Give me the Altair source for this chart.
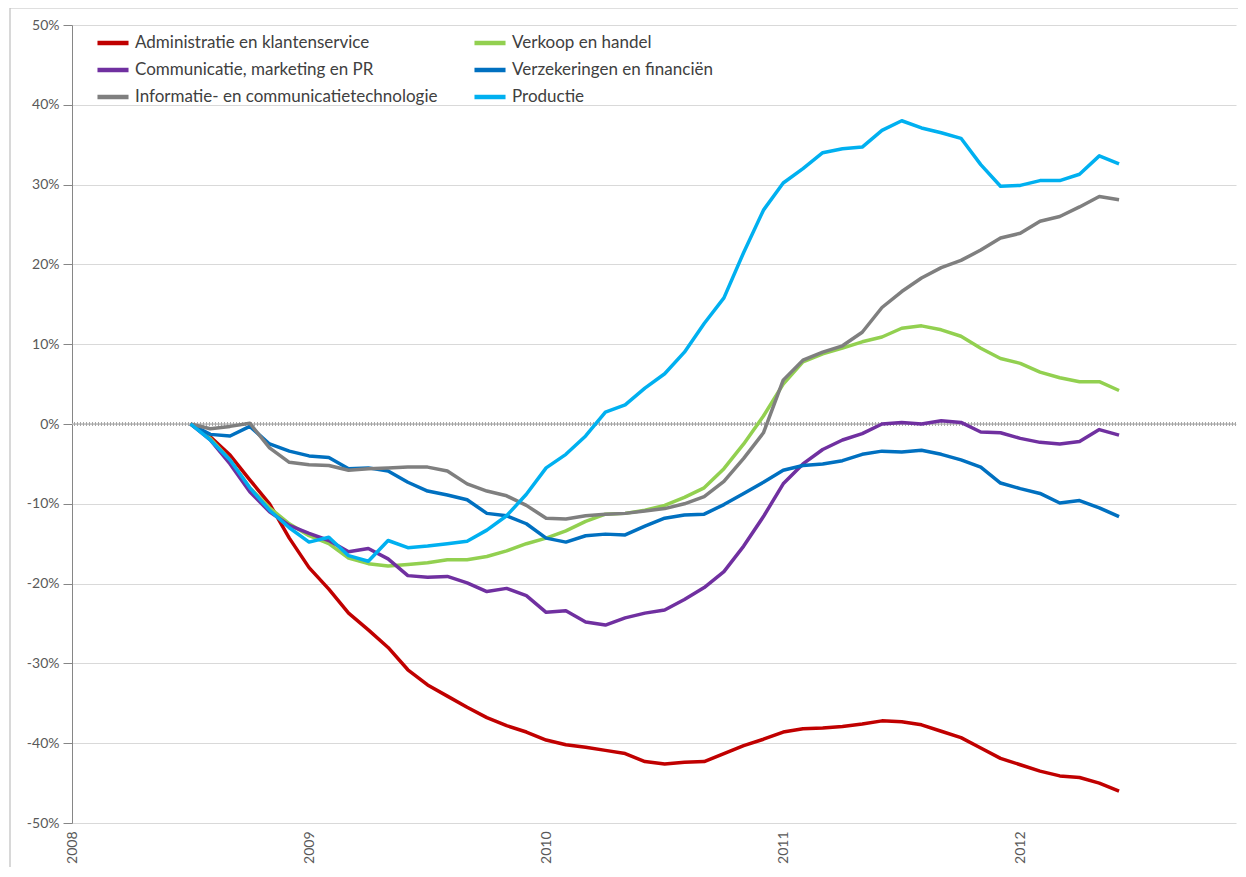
import altair as alt
import pandas as pd

# months (year-month) of the observations
months = [
    "2008-07", "2008-08", "2008-09", "2008-10", "2008-11", "2008-12",
    "2009-01", "2009-02", "2009-03", "2009-04", "2009-05", "2009-06",
    "2009-07", "2009-08", "2009-09", "2009-10", "2009-11", "2009-12",
    "2010-01", "2010-02", "2010-03", "2010-04", "2010-05", "2010-06",
    "2010-07", "2010-08", "2010-09", "2010-10", "2010-11", "2010-12",
    "2011-01", "2011-02", "2011-03", "2011-04", "2011-05", "2011-06",
    "2011-07", "2011-08", "2011-09", "2011-10", "2011-11", "2011-12",
    "2012-01", "2012-02", "2012-03", "2012-04", "2012-05", "2012-06",
]

administratie = [
    0.0, -1.6, -3.9, -7.0, -10.0, -14.3, -18.0, -20.7, -23.7, -25.8, -28.0, -30.8,
    -32.7, -34.1, -35.5, -36.8, -37.8, -38.6, -39.6, -40.2, -40.5, -40.9, -41.3, -42.3,
    -42.6, -42.4, -42.3, -41.3, -40.3, -39.5, -38.6, -38.2, -38.1, -37.9, -37.6, -37.2,
    -37.3, -37.7, -38.5, -39.3, -40.6, -41.9, -42.7, -43.5, -44.1, -44.3, -45.0, -46.0,
]
verkoop = [
    0.0, -1.8, -4.5, -8.0, -10.5, -12.5, -14.0, -15.0, -16.8, -17.5, -17.8, -17.6,
    -17.4, -17.0, -17.0, -16.6, -15.9, -15.0, -14.3, -13.4, -12.2, -11.3, -11.2, -10.8,
    -10.2, -9.2, -8.0, -5.6, -2.5, 1.0, 5.0, 7.8, 8.8, 9.5, 10.3, 10.9,
    12.0, 12.3, 11.8, 11.0, 9.5, 8.2, 7.6, 6.5, 5.8, 5.3, 5.3, 4.2,
]
communicatie = [
    0.0, -2.0, -5.0, -8.5, -11.0, -12.7, -13.7, -14.6, -16.0, -15.6, -16.9, -19.0,
    -19.2, -19.1, -19.9, -21.0, -20.6, -21.5, -23.6, -23.4, -24.8, -25.2, -24.3, -23.7,
    -23.3, -22.0, -20.5, -18.5, -15.3, -11.6, -7.5, -5.0, -3.2, -2.0, -1.2, 0.0,
    0.2, 0.0, 0.4, 0.2, -1.0, -1.1, -1.8, -2.3, -2.5, -2.2, -0.7, -1.4,
]
verzekeringen = [
    0.0, -1.3, -1.5, -0.3, -2.5, -3.4, -4.0, -4.2, -5.6, -5.5, -5.9, -7.3,
    -8.4, -8.9, -9.5, -11.2, -11.5, -12.5, -14.3, -14.8, -14.0, -13.8, -13.9, -12.8,
    -11.8, -11.4, -11.3, -10.1, -8.7, -7.3, -5.8, -5.2, -5.0, -4.6, -3.8, -3.4,
    -3.5, -3.3, -3.8, -4.5, -5.4, -7.4, -8.1, -8.7, -9.9, -9.6, -10.5, -11.6,
]
informatie = [
    0.0, -0.6, -0.3, 0.1, -3.0, -4.8, -5.1, -5.2, -5.8, -5.6, -5.5, -5.4,
    -5.4, -5.9, -7.5, -8.4, -9.0, -10.2, -11.8, -11.9, -11.5, -11.3, -11.2, -10.9,
    -10.6, -10.0, -9.1, -7.2, -4.3, -1.1, 5.5, 8.0, 9.0, 9.8, 11.5, 14.6,
    16.6, 18.3, 19.6, 20.5, 21.8, 23.3, 23.9, 25.4, 26.0, 27.2, 28.5, 28.1,
]
productie = [
    0.0, -2.0, -4.5, -8.0, -10.8, -13.0, -14.8, -14.2, -16.5, -17.2, -14.6, -15.5,
    -15.3, -15.0, -14.7, -13.3, -11.5, -8.8, -5.5, -3.8, -1.5, 1.5, 2.4, 4.5,
    6.3, 9.0, 12.6, 15.8, 21.5, 26.8, 30.2, 32.0, 34.0, 34.5, 34.7, 36.8,
    38.0, 37.1, 36.5, 35.8, 32.5, 29.8, 29.9, 30.5, 30.5, 31.3, 33.6, 32.6,
]

series_names = [
    "Administratie en klantenservice",
    "Verkoop en handel",
    "Communicatie, marketing en PR",
    "Verzekeringen en financiën",
    "Informatie- en communicatietechnologie",
    "Productie",
]
series_values = [administratie, verkoop, communicatie, verzekeringen, informatie, productie]
series_colors = ["#C00000", "#92D050", "#7030A0", "#0070C0", "#7F7F7F", "#00B0F0"]

year_ticks = [2008, 2009, 2010, 2011, 2012]
pct_ticks = [-50, -40, -30, -20, -10, 0, 10, 20, 30, 40, 50]

rows = []
for name, vals in zip(series_names, series_values):
    for m, v in zip(months, vals):
        yr, mo = m.split("-")
        rows.append({"t": int(yr) + (int(mo) - 1) / 12.0, "serie": name, "v": v})
df = pd.DataFrame(rows)

W, H = 1164, 798
FONT = "Lato"

x_enc = alt.X(
    "t:Q",
    scale=alt.Scale(domain=[2008, 2012.91], nice=False, zero=False),
    axis=alt.Axis(values=year_ticks, format="d", labelAngle=270, domain=False,
                  ticks=False, grid=False, labelPadding=8, title=None),
)
y_enc = alt.Y(
    "v:Q",
    scale=alt.Scale(domain=[-50, 50], nice=False),
    axis=alt.Axis(values=pct_ticks, labelExpr="datum.value + '%'", title=None,
                  tickSize=9, labelPadding=4, domainColor="#868686", tickColor="#868686",
                  grid=True, gridColor="#D9D9D9", gridWidth=1.2),
)

frame = alt.Chart(pd.DataFrame({"a": [0]})).mark_rect(
    fillOpacity=0, stroke="#BFBFBF", strokeWidth=1.2
).encode(x=alt.value(-62), x2=alt.value(W + 20), y=alt.value(-17), y2=alt.value(H + 60))

zero = alt.Chart(pd.DataFrame({"v": [0]}))
zero_base = zero.mark_rule(color="#BDBDBD", strokeWidth=1.5).encode(y="v:Q")
zero_ticks = zero.mark_rule(color="#A6A6A6", strokeWidth=4, strokeDash=[1, 2]).encode(y="v:Q")

lines = alt.Chart(df).mark_line(strokeWidth=3.5, strokeJoin="round").encode(
    x=x_enc,
    y=y_enc,
    color=alt.Color(
        "serie:N",
        scale=alt.Scale(domain=series_names, range=series_colors),
        sort=series_names,
        legend=alt.Legend(
            title=None, orient="none", legendX=25, legendY=2, columns=2,
            direction="horizontal",
            symbolType="M-1.15,0H1.15", symbolSize=729, symbolStrokeWidth=4.5,
            labelFontSize=17, labelFont=FONT, labelColor="#404040",
            columnPadding=27, rowPadding=2, labelOffset=6, labelLimit=500,
            padding=0,
        ),
    ),
    order=alt.Order("t:Q"),
)

chart = alt.layer(frame, zero_base, zero_ticks, lines).properties(
    width=W, height=H,
    padding={"left": 64, "top": 17, "right": 2, "bottom": 44},
    autosize=alt.AutoSizeParams(type="none"),
).configure_view(stroke=None).configure_axis(
    labelFont=FONT, labelFontSize=14, labelColor="#595959",
)

chart.save("out.html", embed_options={"renderer": "svg", "actions": False})
